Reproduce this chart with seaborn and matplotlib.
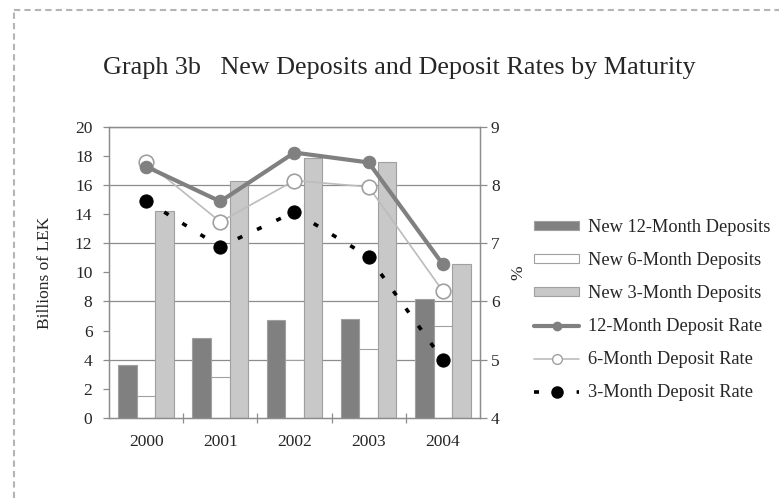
import numpy as np
import pandas as pd
import matplotlib
matplotlib.use('Agg')
import matplotlib.pyplot as plt
from matplotlib.lines import Line2D
from matplotlib.patches import Patch
import seaborn as sns

# Data
YEARS = ['2000', '2001', '2002', '2003', '2004']
DEP_12M = [3.6, 5.5, 6.7, 6.8, 8.2]      # billions of LEK
DEP_6M = [1.5, 2.8, 4.0, 4.7, 6.3]
DEP_3M = [14.2, 16.3, 17.9, 17.6, 10.6]
RATE_12M = [8.32, 7.72, 8.56, 8.39, 6.64]  # %
RATE_6M = [8.40, 7.37, 8.08, 7.97, 6.18]
RATE_3M = [7.73, 6.94, 7.54, 6.77, 5.00]

BAR_LABELS = ['New 12-Month Deposits', 'New 6-Month Deposits', 'New 3-Month Deposits']
LINE_LABELS = ['12-Month Deposit Rate', '6-Month Deposit Rate', '3-Month Deposit Rate']
BAR_COLORS = ['#808080', '#ffffff', '#c8c8c8']
GRID_COL = '#8c8c8c'

sns.set_theme(style='white')
plt.rcParams['font.family'] = ['Liberation Serif', 'DejaVu Serif']

# long-form table for the bars
df = pd.DataFrame({
    'year': YEARS * 3,
    'value': DEP_12M + DEP_6M + DEP_3M,
    'series': np.repeat(BAR_LABELS, len(YEARS)),
})

fig = plt.figure(figsize=(7.79, 4.98), dpi=100)
ax = fig.add_axes([0.140, 0.161, 0.476, 0.584])

# gridlines behind the bars
for v in range(4, 21, 4):
    ax.axhline(v, color=GRID_COL, lw=0.9, zorder=0)

sns.barplot(data=df, x='year', y='value', hue='series', hue_order=BAR_LABELS,
            palette=BAR_COLORS, saturation=1, width=0.75, edgecolor='#a0a0a0',
            linewidth=0.8, legend=False, ax=ax, zorder=2)

ax.set_xlim(-0.5, len(YEARS) - 0.5)
ax.set_ylim(0, 20)
ax.set_yticks(range(0, 21, 2))
ax.set_xlabel('')
ax.set_ylabel('Billions of LEK', fontsize=12.5, labelpad=16)
ax.tick_params(axis='y', which='major', direction='out', length=4, width=0.9,
               color=GRID_COL, labelsize=12.5, pad=8, left=True)
ax.tick_params(axis='x', which='major', length=0, labelsize=12.5, pad=12)
ax.set_xticks(np.arange(len(YEARS) - 1) + 0.5, minor=True)
ax.tick_params(axis='x', which='minor', direction='inout', length=7, width=0.9,
               color=GRID_COL, bottom=True)
for s in ax.spines.values():
    s.set_color(GRID_COL)
    s.set_linewidth(0.9)

# deposit rates on the right axis
ax2 = ax.twinx()
xpos = np.arange(len(YEARS))
sns.lineplot(x=xpos, y=RATE_12M, ax=ax2, color='#808080', linewidth=3,
             marker='o', markersize=9, markerfacecolor='#808080',
             markeredgecolor='#808080', zorder=5)
sns.lineplot(x=xpos, y=RATE_6M, ax=ax2, color='#bcbcbc', linewidth=1.2,
             marker='o', markersize=10.5, markerfacecolor='white',
             markeredgecolor='#a0a0a0', markeredgewidth=1.2, zorder=4)
sns.lineplot(x=xpos, y=RATE_3M, ax=ax2, color='black', linewidth=2.6,
             linestyle=(0, (1.4, 4.5)), marker='o', markersize=9.5,
             markerfacecolor='black', markeredgecolor='black', zorder=6)

ax2.set_ylim(4, 9)
ax2.set_yticks(range(4, 10))
ax2.set_ylabel('%', fontsize=12.5, labelpad=8)
ax2.tick_params(axis='y', direction='out', length=5, width=0.9, color=GRID_COL,
                labelsize=12.5, pad=3, right=True)
for s in ax2.spines.values():
    s.set_color(GRID_COL)
    s.set_linewidth(0.9)

fig.text(0.512, 0.863, 'Graph 3b   New Deposits and Deposit Rates by Maturity',
         ha='center', va='center', fontsize=18.8)

handles = [Patch(facecolor=c, edgecolor='#a0a0a0', linewidth=0.8) for c in BAR_COLORS]
handles += [
    Line2D([], [], color='#808080', lw=3, marker='o', markersize=6,
           markerfacecolor='#808080', markeredgecolor='#808080'),
    Line2D([], [], color='#bcbcbc', lw=1.2, marker='o', markersize=7,
           markerfacecolor='white', markeredgecolor='#a0a0a0'),
    Line2D([], [], color='black', lw=2.6, ls=(0, (1.4, 4.5)), marker='o',
           markersize=8, markerfacecolor='black'),
]
fig.legend(handles, BAR_LABELS + LINE_LABELS, loc='center left',
           bbox_to_anchor=(0.685, 0.377), frameon=False, fontsize=13.2,
           handlelength=2.5, handleheight=0.4, handletextpad=0.45,
           labelspacing=0.87, borderpad=0, borderaxespad=0, numpoints=1)

# dashed frame of the original page
fig.add_artist(Line2D([14 / 779, 1], [1 - 10 / 498] * 2, transform=fig.transFigure,
                      color='#b4b4b4', lw=1.5, ls=(0, (3, 2))))
fig.add_artist(Line2D([14 / 779] * 2, [0, 1 - 10 / 498], transform=fig.transFigure,
                      color='#b4b4b4', lw=1.5, ls=(0, (3, 2))))

fig.savefig('out.png', dpi=100)
